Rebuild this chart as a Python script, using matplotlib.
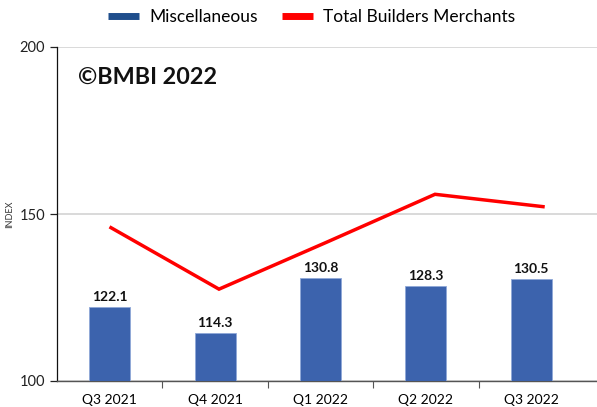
import matplotlib
matplotlib.use("Agg")
import matplotlib.pyplot as plt
from matplotlib.lines import Line2D
import numpy as np

# DATA
quarters = ["Q3 2021", "Q4 2021", "Q1 2022", "Q2 2022", "Q3 2022"]
misc = [122.1, 114.3, 130.8, 128.3, 130.5]
total_bm = [145.9, 127.5, 141.6, 155.9, 152.2]

plt.rcParams['font.family'] = ['Lato', 'DejaVu Sans']

fig = plt.figure(figsize=(5.97, 4.07), dpi=100)
ax = fig.add_axes([57 / 597, 26 / 407, 540 / 597, 334 / 407])

x = np.arange(len(quarters))
ax.bar(x, misc, width=0.39, color="#3C63AD", edgecolor="#8FA8D8", linewidth=0.6, zorder=3)
for xi, v in zip(x, misc):
    ax.text(xi, v + 1.2, f"{v:.1f}", ha="center", va="bottom", fontsize=10, fontweight="bold", color="#111111")

ax.set_xlim(-0.5, 4.5 + 13 / 105)
ax.set_ylim(100, 200)
ax.set_yticks([100, 150, 200])
ax.set_xticks(x)
ax.set_xticklabels(quarters, fontsize=10)
ax.set_xticks([0.5, 1.5, 2.5, 3.5], minor=True)
ax.tick_params(axis="x", which="major", length=0, pad=9)
ax.tick_params(axis="x", which="minor", length=5, color="#555555", width=0.8)
ax.tick_params(axis="y", length=5, width=0.9, labelsize=10.5, colors="#222222")
ax.grid(axis="y", color="#D0D0D0", linewidth=1.1, zorder=0)
for s in ["top", "right"]:
    ax.spines[s].set_visible(False)
ax.spines["left"].set_color("#111111")
ax.spines["left"].set_linewidth(0.9)
ax.spines["bottom"].set_color("#555555")
ax.spines["bottom"].set_linewidth(1.0)
ax.set_ylabel("INDEX", fontsize=6.5, color="#333333", labelpad=4)

# line sits on its own category axis spanning the full width
ax2 = ax.twiny()
ax2.set_xlim(-0.5, 4.5)
ax2.plot(x, total_bm, color="#FF0000", linewidth=2.5, solid_joinstyle="miter", zorder=4)
ax2.set_xticks([])
for s in ax2.spines.values():
    s.set_visible(False)
ax2.set_ylim(100, 200)

ax.text(21 / 540, 0.91, "\u00a9BMBI 2022", transform=ax.transAxes,
        fontsize=16.8, fontweight="bold", color="#111111", va="center", ha="left")

handles = [Line2D([0], [0], color="#1F4E8C", linewidth=5, solid_capstyle="butt"),
           Line2D([0], [0], color="#FF0000", linewidth=5, solid_capstyle="butt")]
fig.legend(handles, ["Miscellaneous", "Total Builders Merchants"], loc="center",
           bbox_to_anchor=(0.522, 0.958), ncol=2, frameon=False, fontsize=12.5,
           handlelength=1.8, columnspacing=1.35, handletextpad=0.6)

fig.savefig("out.png", dpi=100)
